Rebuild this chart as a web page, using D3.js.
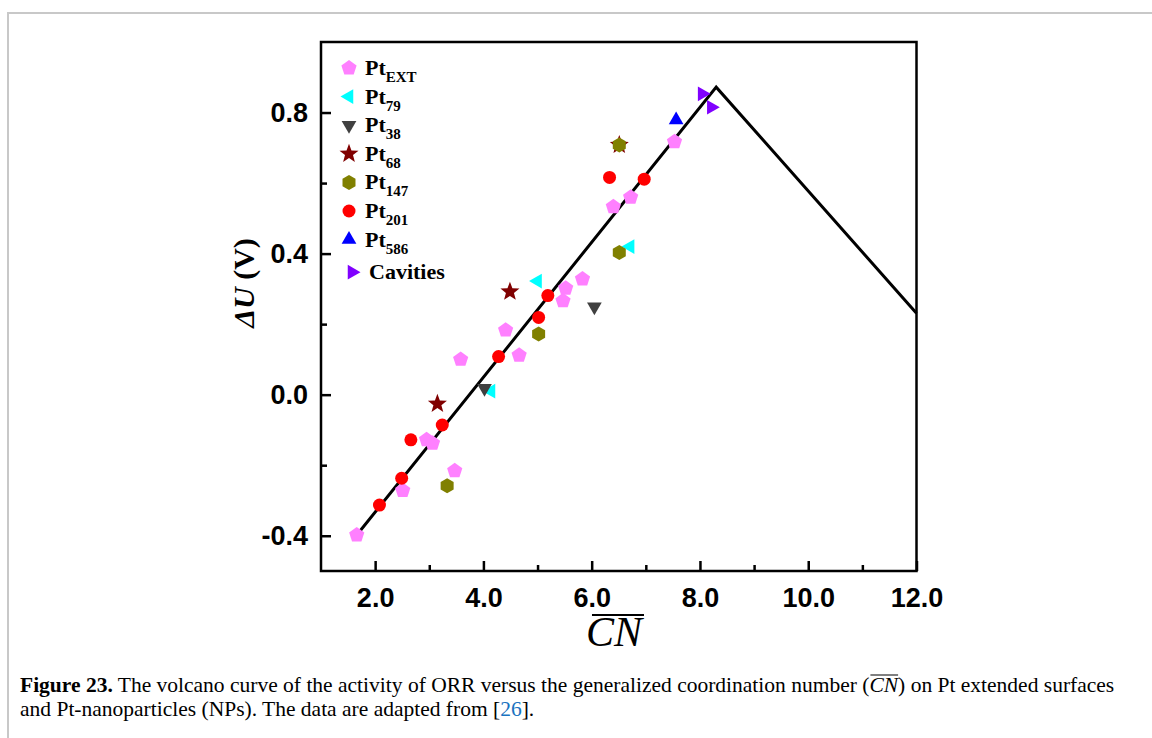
<!DOCTYPE html>
<html>
<head>
<meta charset="utf-8">
<script src="https://cdn.jsdelivr.net/npm/d3@7"></script>
<style>
  body { margin: 0; background: #fff; }
  svg { display: block; }
  .tick text { font-family: "Liberation Sans", Arial, sans-serif; font-weight: bold; font-size: 27px; fill: #000; }
  .tick line { stroke: #000; stroke-width: 2.5; }
</style>
</head>
<body>
<svg width="1152" height="738"></svg>
<script>
// values: [CN, dU]
var ptEXT = [[1.66,-0.398],[2.51,-0.272],[3.47,-0.216],[2.95,-0.128],[3.06,-0.138],[3.58,0.100],
             [4.66,0.112],[4.41,0.183],[5.47,0.266],[5.52,0.302],[5.83,0.328],[6.40,0.533],
             [6.72,0.560],[7.53,0.717]];
var pt79 = [[4.14,0.010],[5.00,0.322],[6.71,0.420]];
var pt38 = [[4.02,0.018],[6.05,0.249]];
var pt68 = [[3.15,-0.026],[4.49,0.292],[6.51,0.708]];
var pt147 = [[3.33,-0.258],[5.02,0.172],[6.51,0.403],[6.51,0.708]];
var pt201 = [[2.08,-0.313],[2.49,-0.237],[2.66,-0.128],[3.24,-0.086],[4.28,0.108],
             [5.02,0.219],[5.19,0.281],[6.33,0.616],[6.97,0.611]];
var pt586 = [[7.56,0.779]];
var cavities = [[8.04,0.853],[8.21,0.815]];
var volcano = [[1.65,-0.40],[8.30,0.872],[12.0,0.231]];

var xMajor = [2,4,6,8,10,12], xMinor = [3,5,7,9,11];
var yMajor = [-0.4,0.0,0.4,0.8], yMinor = [-0.2,0.2,0.6];

var svg = d3.select("svg");

// light grey page frame
svg.append("path")
  .attr("d", "M8,738V13H1152")
  .attr("fill", "none")
  .attr("stroke", "#c8c8c8")
  .attr("stroke-width", 2);

var pLeft = 321, pTop = 42, pRight = 916.5, pBottom = 571;
var x = d3.scaleLinear().domain([1, 12]).range([pLeft, pRight]);
var y = d3.scaleLinear().domain([-0.5, 1.0]).range([pBottom, pTop]);
var fmt = function (d) { return d.toFixed(1); };

// axes, ticks pointing inwards
svg.append("g").attr("transform", "translate(0," + pBottom + ")")
  .call(d3.axisBottom(x).tickValues(xMajor).tickSize(-10).tickPadding(17).tickFormat(fmt))
  .call(function (g) { g.select(".domain").remove(); });
svg.append("g").attr("transform", "translate(0," + pBottom + ")")
  .call(d3.axisBottom(x).tickValues(xMinor).tickSize(-6).tickFormat(""))
  .call(function (g) { g.select(".domain").remove(); });
svg.append("g").attr("transform", "translate(" + pLeft + ",0)")
  .call(d3.axisLeft(y).tickValues(yMajor).tickSize(-10).tickPadding(13).tickFormat(fmt))
  .call(function (g) { g.select(".domain").remove(); });
svg.append("g").attr("transform", "translate(" + pLeft + ",0)")
  .call(d3.axisLeft(y).tickValues(yMinor).tickSize(-6).tickFormat(""))
  .call(function (g) { g.select(".domain").remove(); });

svg.append("rect")
  .attr("x", pLeft).attr("y", pTop)
  .attr("width", pRight - pLeft).attr("height", pBottom - pTop)
  .attr("fill", "none").attr("stroke", "#000").attr("stroke-width", 2.5);

// volcano line
svg.append("path")
  .datum(volcano)
  .attr("d", d3.line().x(function (d) { return x(d[0]); }).y(function (d) { return y(d[1]); }))
  .attr("fill", "none").attr("stroke", "#000").attr("stroke-width", 3);

// marker shapes
function poly(n, r, rot) {
  var p = [];
  for (var i = 0; i < n; i++) {
    var a = rot + i * 2 * Math.PI / n;
    p.push([r * Math.sin(a), -r * Math.cos(a)]);
  }
  return "M" + p.join("L") + "Z";
}
function star(ro, ri) {
  var p = [];
  for (var i = 0; i < 10; i++) {
    var a = i * Math.PI / 5, r = i % 2 ? ri : ro;
    p.push([r * Math.sin(a), -r * Math.cos(a)]);
  }
  return "M" + p.join("L") + "Z";
}
var shapes = {
  pentagon: poly(5, 8, 0),
  left: poly(3, 8.5, -Math.PI / 2),
  down: poly(3, 8.5, Math.PI),
  star: star(10, 4.2),
  hexagon: poly(6, 7.5, 0),
  circle: d3.symbol().type(d3.symbolCircle).size(Math.PI * 6.5 * 6.5)(),
  up: poly(3, 8.5, 0),
  right: poly(3, 8.5, Math.PI / 2)
};

var series = [
  { sub: "EXT", data: ptEXT, shape: "pentagon", color: "#ff80ff" },
  { sub: "79", data: pt79, shape: "left", color: "#00ffff" },
  { sub: "38", data: pt38, shape: "down", color: "#404040" },
  { sub: "68", data: pt68, shape: "star", color: "#800000" },
  { sub: "147", data: pt147, shape: "hexagon", color: "#808000" },
  { sub: "201", data: pt201, shape: "circle", color: "#ff0000" },
  { sub: "586", data: pt586, shape: "up", color: "#0000ff" },
  { sub: null, name: "Cavities", data: cavities, shape: "right", color: "#8000ff" }
];

series.forEach(function (s) {
  svg.append("g").selectAll("path")
    .data(s.data)
    .enter().append("path")
    .attr("d", shapes[s.shape])
    .attr("fill", s.color)
    .attr("transform", function (d) { return "translate(" + x(d[0]) + "," + y(d[1]) + ")"; });
});

// legend
var legend = svg.append("g")
  .attr("font-family", "'Liberation Serif', 'Times New Roman', serif")
  .attr("font-weight", "bold");
series.forEach(function (s, i) {
  var ly = 68 + i * 28.6 + (s.sub ? 0 : 4);
  var lx = s.sub ? 349 : 352;
  legend.append("path")
    .attr("d", shapes[s.shape])
    .attr("fill", s.color)
    .attr("transform", "translate(" + lx + "," + ly + ")");
  var t = legend.append("text")
    .attr("x", s.sub ? 365 : 369)
    .attr("y", ly + 7)
    .attr("font-size", 22);
  if (s.sub) {
    t.append("tspan").text("Pt");
    t.append("tspan").attr("font-size", 15).attr("dy", 7).text(s.sub);
  } else {
    t.text(s.name);
  }
});

// axis titles
svg.append("text")
  .attr("transform", "translate(254,283) rotate(-90)")
  .attr("text-anchor", "middle")
  .attr("font-family", "'Liberation Serif', 'Times New Roman', serif")
  .attr("font-weight", "bold")
  .attr("font-size", 30)
  .call(function (t) {
    t.append("tspan").attr("font-style", "italic").text("\u0394U");
    t.append("tspan").text(" (V)");
  });

var xt = svg.append("text")
  .attr("x", 614).attr("y", 646)
  .attr("text-anchor", "middle")
  .attr("font-family", "'Liberation Serif', 'Times New Roman', serif")
  .attr("font-style", "italic")
  .attr("font-size", 42)
  .text("CN");
var xb = xt.node().getBBox();
svg.append("line")
  .attr("x1", xb.x + 6).attr("x2", xb.x + xb.width)
  .attr("y1", 615).attr("y2", 615)
  .attr("stroke", "#000").attr("stroke-width", 2);

// caption
var cap = svg.append("g")
  .attr("font-family", "'Liberation Serif', 'Times New Roman', serif")
  .attr("font-size", 21.5)
  .attr("fill", "#000");
var l1 = cap.append("text").attr("x", 20).attr("y", 692);
l1.append("tspan").attr("font-weight", "bold").text("Figure 23.");
l1.append("tspan").text(" The volcano curve of the activity of ORR versus the generalized coordination number (");
l1.append("tspan").attr("font-style", "italic").text("CN");
l1.append("tspan").text(") on Pt extended surfaces");
var l2 = cap.append("text").attr("x", 20).attr("y", 716);
l2.append("tspan").text("and Pt-nanoparticles (NPs). The data are adapted from [");
l2.append("tspan").attr("fill", "#1a73c0").text("26");
l2.append("tspan").text("].");

// overline on CN in the caption
var full = l1.text(), ci = full.indexOf("CN");
var e1 = l1.node().getExtentOfChar(ci), e2 = l1.node().getExtentOfChar(ci + 1);
cap.append("line")
  .attr("x1", e1.x + 1).attr("x2", e2.x + e2.width)
  .attr("y1", e1.y + 2).attr("y2", e1.y + 2)
  .attr("stroke", "#000").attr("stroke-width", 1);
</script>
</body>
</html>
